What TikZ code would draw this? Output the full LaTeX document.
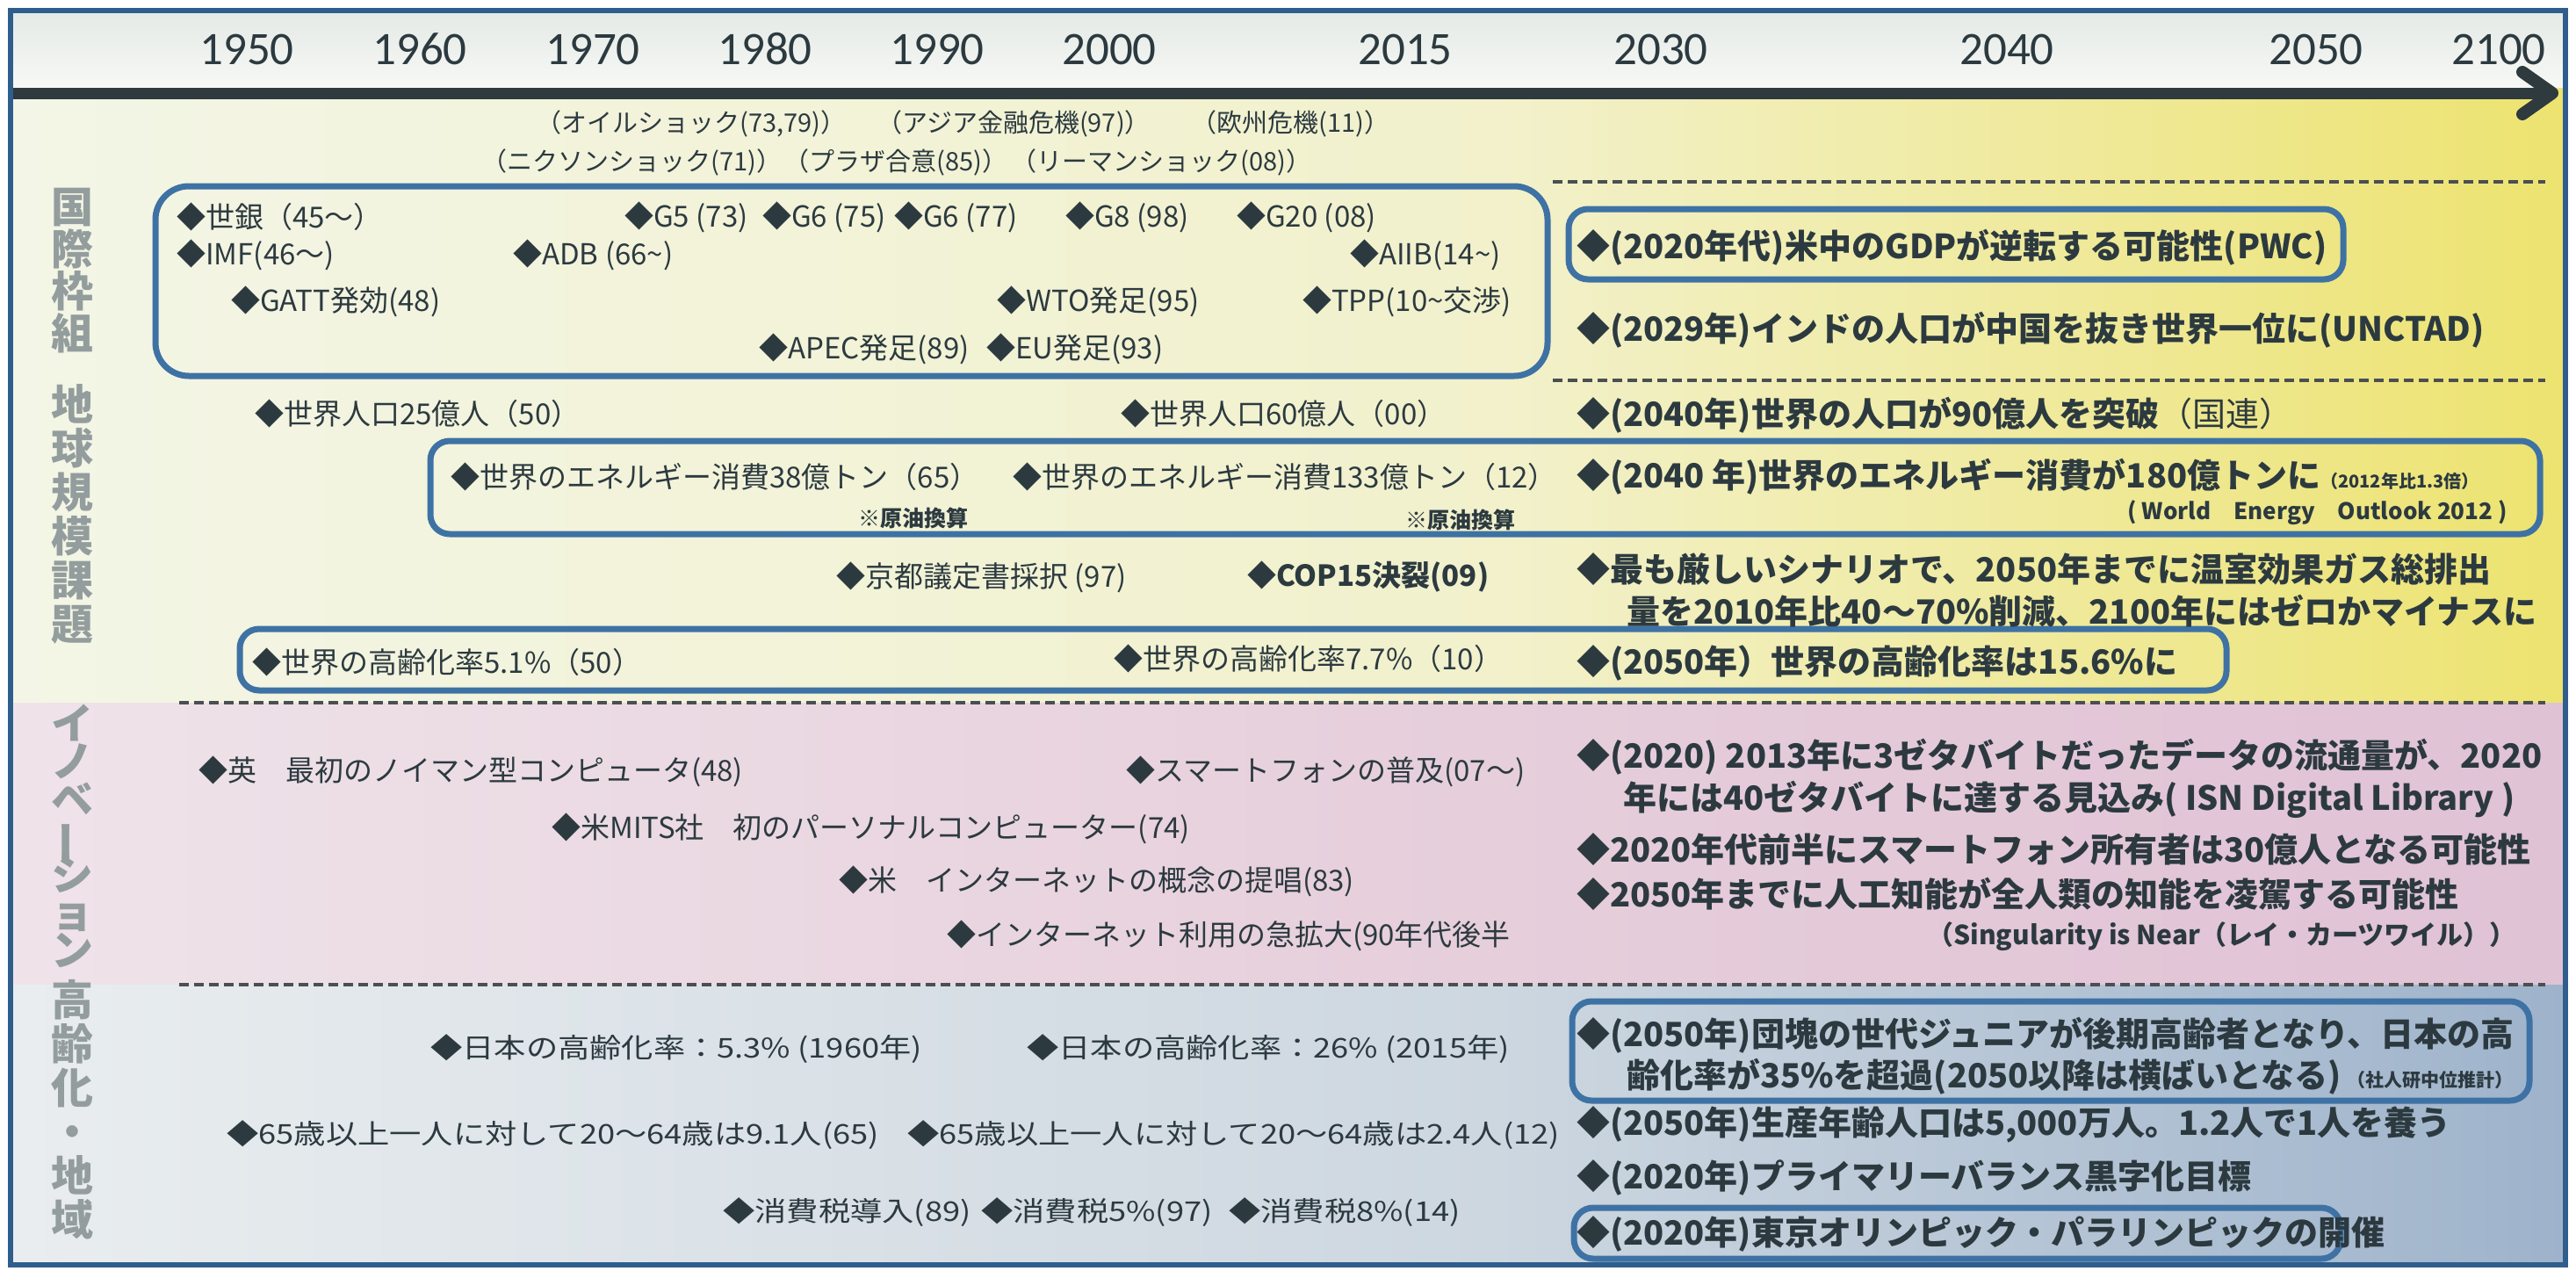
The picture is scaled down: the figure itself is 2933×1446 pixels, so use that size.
\documentclass[tikz,border=0pt]{standalone}
\usepackage{fontspec}
\usepackage{graphicx}
\setmainfont{Noto Sans CJK JP}
\newfontfamily\yearfont{Carlito}
\definecolor{ink}{HTML}{2C3A40}
\definecolor{frameblue}{HTML}{2F5E8C}
\definecolor{boxblue}{HTML}{3E72A4}
\definecolor{labgray}{HTML}{949D9D}
\definecolor{dashgray}{HTML}{4A4F52}
\definecolor{arrowc}{HTML}{2E3A3E}
\definecolor{hdA}{HTML}{E4EAE6}
\definecolor{hdB}{HTML}{F7F8F5}
\definecolor{sOa}{HTML}{F3F5E6}
\definecolor{sOb}{HTML}{F2F1CC}
\definecolor{sOc}{HTML}{EDE370}
\definecolor{sTa}{HTML}{EFE3E9}
\definecolor{sTb}{HTML}{E6CEDB}
\definecolor{sTc}{HTML}{E0C2D5}
\definecolor{sHa}{HTML}{E9EDEF}
\definecolor{sHb}{HTML}{CDD7E0}
\definecolor{sHc}{HTML}{9EB3CB}
\newcommand{\hstr}[1]{\scalebox{1.17}[1]{#1}}
\tikzset{
 past/.style={anchor=west, inner sep=0pt, text=ink, font=\fontsize{33}{38}\selectfont},
 pastS/.style={anchor=west, inner sep=0pt, text=ink, font=\fontsize{31}{36}\selectfont},
 fut/.style={anchor=west, inner sep=0pt, text=ink, font=\fontsize{38}{44}\selectfont\bfseries},
 evt/.style={anchor=west, inner sep=0pt, text=ink, font=\fontsize{29}{33}\selectfont},
 note/.style={anchor=west, inner sep=0pt, text=ink, font=\fontsize{25}{28}\selectfont\bfseries},
 yr/.style={inner sep=0pt, text=ink, font=\yearfont\fontsize{53}{60}\selectfont},
 vlab/.style={inner sep=0pt, text=labgray, text height=20pt, text depth=18pt, font=\fontsize{48}{50}\selectfont\bfseries},
 tlbox/.style={draw=boxblue, line width=7pt, rounded corners=22pt},
 sepline/.style={draw=dashgray, line width=3.5pt, dash pattern=on 11pt off 6pt},
}
\begin{document}
\begin{tikzpicture}[x=1pt,y=-1pt]
\useasboundingbox (0,0) rectangle (2933,1446);
\fill[white] (0,0) rectangle (2933,1446);
% backgrounds
\shade[top color=hdA, bottom color=hdB] (13,13) rectangle (2920,100);
\shade[left color=sOa, right color=sOb] (13,100) rectangle (1700,800);
\shade[left color=sOb, right color=sOc] (1699,100) rectangle (2920,800);
\shade[left color=sTa, right color=sTb] (13,800) rectangle (1700,1121);
\shade[left color=sTb, right color=sTc] (1699,800) rectangle (2920,1121);
\shade[left color=sHa, right color=sHb] (13,1121) rectangle (1700,1438);
\shade[left color=sHb, right color=sHc] (1699,1121) rectangle (2920,1438);
% separators
\draw[sepline] (1768,207) -- (2898,207);
\draw[sepline] (1768,433) -- (2898,433);
\draw[sepline] (204,800) -- (2898,800);
\draw[sepline] (204,1121) -- (2898,1121);
% boxes
\draw[tlbox, rounded corners=38pt] (177,212) rectangle (1762,428);
\draw[tlbox] (1786,238) rectangle (2668,318);
\draw[tlbox] (490,502) rectangle (2892,608);
\draw[tlbox] (273,716) rectangle (2535,786);
\draw[tlbox] (1790,1140) rectangle (2880,1253);
\draw[tlbox] (1792,1375) rectangle (2665,1433);
% arrow
\draw[arrowc, line width=13pt] (13,106) -- (2898,106);
\draw[arrowc, line width=14pt, line cap=round, line join=round] (2872,82) -- (2906,106) -- (2872,130);
% frame
\draw[frameblue, line width=6pt] (12,12) rectangle (2921,1440);
% years
\foreach \yy/\xx in {1950/281,1960/478,1970/675,1980/871,1990/1067,2000/1263,2015/1600,2030/1891,2040/2285,2050/2637,2100/2845}
  \node[yr] (y\yy) at (\xx,56) {\yy};
% vertical labels
\foreach \c [count=\i] in {国,際,枠,組}
  \node[vlab] (va\i) at (82,{252+48*(\i-1)}) {\c};
\foreach \c [count=\i] in {地,球,規,模,課,題}
  \node[vlab] (vb\i) at (82,{477+50*(\i-1)}) {\c};
\foreach \c [count=\i] in {イ,ノ,ベ,{\rotatebox[origin=c]{90}{ー}},シ,ョ,ン}
  \node[vlab] (vc\i) at (82,{840+43*(\i-1)}) {\c};
\foreach \c [count=\i] in {高,齢,化,・,地,域}
  \node[vlab] (vd\i) at (82,{1155+50*(\i-1)}) {\c};
% top events
\node[evt] (e1) at (610,141) {（オイルショック(73,79)）};
\node[evt] (e2) at (998,141) {（アジア金融危機(97)）};
\node[evt] (e3) at (1356,141) {（欧州危機(11)）};
\node[evt] (e4) at (548,185) {（ニクソンショック(71)）};
\node[evt] (e5) at (892,185) {（プラザ合意(85)）};
\node[evt] (e6) at (1151,185) {（リーマンショック(08)）};
% international framework
\node[past] (a1) at (201,247) {◆世銀（45〜）};
\node[past] (a2) at (711,247) {◆G5 (73)};
\node[past] (a3) at (868,247) {◆G6 (75)};
\node[past] (a4) at (1018,247) {◆G6 (77)};
\node[past] (a5) at (1213,247) {◆G8 (98)};
\node[past] (a6) at (1408,247) {◆G20 (08)};
\node[past] (a7) at (201,290) {◆IMF(46〜)};
\node[past] (a8) at (584,290) {◆ADB (66\textasciitilde)};
\node[past] (a9) at (1537,290) {◆AIIB(14\textasciitilde)};
\node[past] (a10) at (263,343) {◆GATT発効(48)};
\node[past] (a11) at (1135,343) {◆WTO発足(95)};
\node[past] (a12) at (1483,343) {◆TPP(10\textasciitilde 交渉)};
\node[past] (a13) at (864,397) {◆APEC発足(89)};
\node[past] (a14) at (1123,397) {◆EU発足(93)};
\node[fut] (f1) at (1795,282) {◆(2020年代)米中のGDPが逆転する可能性(PWC)};
\node[fut] (f2) at (1795,376) {◆(2029年)インドの人口が中国を抜き世界一位に(UNCTAD)};
% global issues
\node[past] (b1) at (290,471) {◆世界人口25億人（50）};
\node[past] (b2) at (1276,471) {◆世界人口60億人（00）};
\node[past] (b3) at (513,543) {◆世界のエネルギー消費38億トン（65）};
\node[note] (b4) at (977,590) {※原油換算};
\node[past] (b5) at (1153,543) {◆世界のエネルギー消費133億トン（12）};
\node[note] (b6) at (1600,592) {※原油換算};
\node[past] (b7) at (952,657) {◆京都議定書採択 (97)};
\node[past, font=\fontsize{33}{38}\selectfont\bfseries] (b8) at (1420,657) {◆COP15決裂(09)};
\node[past] (b9) at (287,754) {◆世界の高齢化率5.1\%（50）};
\node[past] (b10) at (1268,750) {◆世界の高齢化率7.7\%（10）};
\node[fut] (f3) at (1795,473) {◆(2040年)世界の人口が90億人を突破{\mdseries （国連）}};
\node[fut] (f4) at (1795,543) {◆(2040 年)世界のエネルギー消費が180億トンに{\fontsize{20}{22}\selectfont （2012年比1.3倍）}};
\node[fut, anchor=east, font=\fontsize{26}{30}\selectfont\bfseries] (f5) at (2855,584) {( World\quad Energy\quad Outlook 2012 )};
\node[fut] (f6) at (1795,648) {◆最も厳しいシナリオで、2050年までに温室効果ガス総排出};
\node[fut] (f7) at (1852,696) {量を2010年比40〜70\%削減、2100年にはゼロかマイナスに};
\node[fut] (f8) at (1795,755) {◆(2050年）世界の高齢化率は15.6\%に};
% innovation
\node[past] (c1) at (226,878) {◆英　最初のノイマン型コンピュータ(48)};
\node[past] (c2) at (628,943) {◆米MITS社　初のパーソナルコンピューター(74)};
\node[past] (c3) at (955,1003) {◆米　インターネットの概念の提唱(83)};
\node[past] (c4) at (1078,1065) {◆インターネット利用の急拡大(90年代後半};
\node[past] (c5) at (1282,878) {◆スマートフォンの普及(07〜)};
\node[fut] (g1) at (1795,862) {◆(2020) 2013年に3ゼタバイトだったデータの流通量が、2020};
\node[fut] (g2) at (1848,910) {年には40ゼタバイトに達する見込み( ISN Digital Library )};
\node[fut] (g3) at (1795,967) {◆2020年代前半にスマートフォン所有者は30億人となる可能性};
\node[fut] (g4) at (1795,1018) {◆2050年までに人工知能が全人類の知能を凌駕する可能性};
\node[fut, anchor=east, font=\fontsize{30}{34}\selectfont\bfseries] (g5) at (2865,1066) {（Singularity is Near（レイ・カーツワイル））};
% ageing / regions
\node[pastS] (p1) at (490,1194) {\hstr{◆日本の高齢化率：5.3\% (1960年)}};
\node[pastS] (p2) at (1169,1194) {\hstr{◆日本の高齢化率：26\% (2015年)}};
\node[pastS] (p3) at (258,1292) {\hstr{◆65歳以上一人に対して20〜64歳は9.1人(65)}};
\node[pastS] (p4) at (1033,1292) {\hstr{◆65歳以上一人に対して20〜64歳は2.4人(12)}};
\node[pastS] (p5) at (823,1380) {\hstr{◆消費税導入(89)}};
\node[pastS] (p6) at (1117,1380) {\hstr{◆消費税5\%(97)}};
\node[pastS] (p7) at (1399,1380) {\hstr{◆消費税8\%(14)}};
\node[fut] (h1) at (1795,1179) {◆(2050年)団塊の世代ジュニアが後期高齢者となり、日本の高};
\node[fut] (h2) at (1852,1226) {齢化率が35\%を超過(2050以降は横ばいとなる)};
\node[fut, font=\fontsize{21}{24}\selectfont\bfseries] (h2b) at (2672,1230) {（社人研中位推計）};
\node[fut] (h3) at (1795,1280) {◆(2050年)生産年齢人口は5,000万人。1.2人で1人を養う};
\node[fut] (h4) at (1795,1341) {◆(2020年)プライマリーバランス黒字化目標};
\node[fut] (h5) at (1795,1405) {◆(2020年)東京オリンピック・パラリンピックの開催};
\end{tikzpicture}
\end{document}
